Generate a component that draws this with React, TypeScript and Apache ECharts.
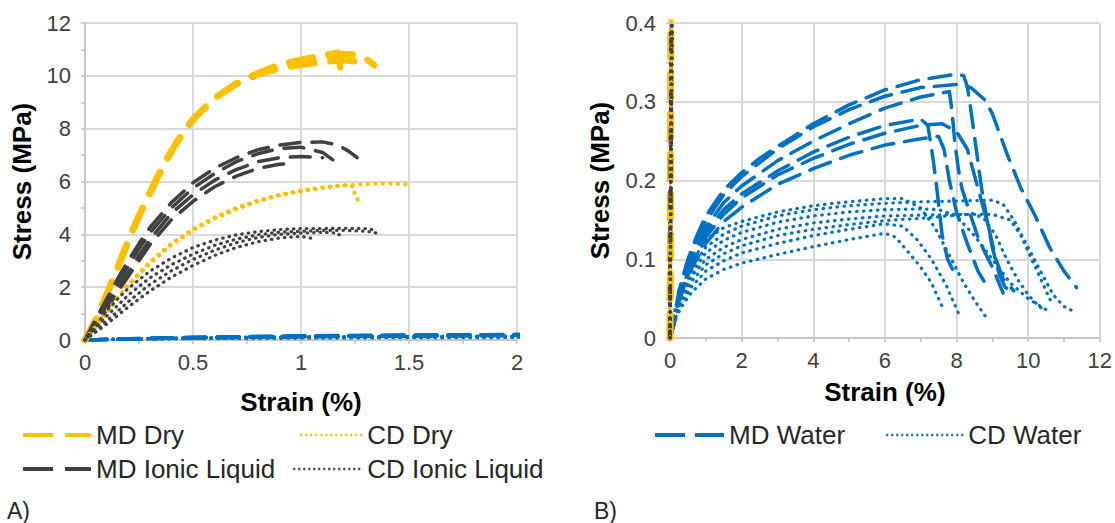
import React, { useEffect, useRef } from 'react';
import * as echarts from 'echarts';

// ---------- Data (strain %, stress MPa) ----------
const mdDry1 = [[0,0],[0.05,0.75],[0.1,1.7],[0.15,2.7],[0.2,3.75],[0.25,4.7],[0.3,5.55],[0.35,6.4],[0.4,7.15],[0.45,7.8],[0.5,8.35],[0.6,9.15],[0.7,9.7],[0.8,10.1],[0.9,10.4],[1.0,10.6],[1.1,10.78],[1.17,10.87],[1.18,10.4],[1.19,9.9]];
const mdDry2 = [[0,0],[0.05,0.75],[0.1,1.7],[0.15,2.7],[0.2,3.75],[0.25,4.7],[0.3,5.55],[0.35,6.4],[0.4,7.15],[0.45,7.8],[0.5,8.35],[0.6,9.15],[0.7,9.7],[0.8,10.1],[0.9,10.42],[1.0,10.6],[1.1,10.73],[1.2,10.83],[1.25,10.8],[1.3,10.65],[1.34,10.4]];
const mdDry3 = [[0,0],[0.05,0.75],[0.1,1.7],[0.15,2.7],[0.2,3.75],[0.25,4.7],[0.3,5.55],[0.35,6.4],[0.4,7.15],[0.45,7.8],[0.5,8.35],[0.6,9.15],[0.7,9.7],[0.8,10.05],[0.9,10.28],[1.0,10.42],[1.1,10.52],[1.2,10.6],[1.25,10.55],[1.28,10.1]];

const cdDry1 = [[0,0],[0.05,0.5],[0.1,1.05],[0.15,1.55],[0.2,2.05],[0.3,2.9],[0.4,3.6],[0.5,4.15],[0.6,4.6],[0.7,4.95],[0.8,5.25],[0.9,5.47],[1.0,5.63],[1.1,5.75],[1.2,5.85],[1.3,5.9],[1.4,5.93],[1.5,5.88]];
const cdDry2 = [[0,0],[0.05,0.52],[0.1,1.08],[0.15,1.6],[0.2,2.1],[0.3,2.95],[0.4,3.65],[0.5,4.2],[0.6,4.64],[0.7,5.0],[0.8,5.28],[0.9,5.5],[1.0,5.66],[1.1,5.78],[1.2,5.86],[1.24,5.82],[1.25,5.5],[1.27,5.2]];

const mdIl1 = [[0,0],[0.05,0.8],[0.1,1.55],[0.15,2.3],[0.2,3.0],[0.25,3.65],[0.3,4.25],[0.4,5.2],[0.5,5.95],[0.6,6.5],[0.7,6.9],[0.8,7.2],[0.9,7.38],[1.0,7.48],[1.1,7.5],[1.17,7.38],[1.22,7.15],[1.26,6.9]];
const mdIl2 = [[0,0],[0.05,0.7],[0.1,1.4],[0.15,2.1],[0.2,2.8],[0.25,3.45],[0.3,4.05],[0.4,5.0],[0.5,5.75],[0.6,6.3],[0.7,6.75],[0.8,7.05],[0.9,7.25],[1.0,7.3],[1.1,7.1],[1.15,6.8],[1.17,6.66]];
const mdIl3 = [[0,0],[0.05,0.6],[0.1,1.25],[0.15,1.9],[0.2,2.55],[0.25,3.2],[0.3,3.8],[0.4,4.8],[0.5,5.5],[0.6,6.05],[0.7,6.45],[0.8,6.75],[0.9,6.9],[1.0,6.95],[1.1,6.9]];
const mdIl4 = [[0,0],[0.05,0.55],[0.1,1.15],[0.15,1.8],[0.2,2.4],[0.25,3.0],[0.3,3.6],[0.4,4.55],[0.5,5.25],[0.6,5.8],[0.7,6.2],[0.8,6.5],[0.9,6.65],[0.95,6.68]];

const cdIl1 = [[0,0],[0.05,0.55],[0.1,1.1],[0.15,1.55],[0.2,1.95],[0.3,2.6],[0.4,3.1],[0.5,3.5],[0.6,3.78],[0.7,3.98],[0.8,4.1],[0.9,4.18],[1.0,4.22],[1.1,4.22],[1.2,4.23],[1.3,4.22],[1.35,4.15]];
const cdIl2 = [[0,0],[0.05,0.45],[0.1,0.9],[0.15,1.3],[0.2,1.7],[0.3,2.35],[0.4,2.85],[0.5,3.25],[0.6,3.58],[0.7,3.82],[0.8,3.98],[0.9,4.08],[1.0,4.12],[1.1,4.15],[1.2,4.15],[1.3,4.12],[1.37,4.02]];
const cdIl3 = [[0,0],[0.05,0.35],[0.1,0.72],[0.15,1.08],[0.2,1.45],[0.3,2.1],[0.4,2.62],[0.5,3.05],[0.6,3.4],[0.7,3.68],[0.8,3.88],[0.9,4.0],[1.0,4.05],[1.1,4.08],[1.17,4.05],[1.18,3.95]];
const cdIl4 = [[0,0],[0.05,0.3],[0.1,0.6],[0.15,0.92],[0.2,1.25],[0.3,1.85],[0.4,2.38],[0.5,2.82],[0.6,3.2],[0.7,3.5],[0.8,3.72],[0.9,3.86],[1.0,3.92],[1.05,3.85]];

const mdWater1 = [[0,0],[0.1,0.02],[0.25,0.06],[0.5,0.1],[0.75,0.13],[1,0.155],[1.5,0.188],[2,0.21],[2.5,0.228],[3,0.243],[4,0.272],[5,0.296],[6,0.315],[7,0.328],[8,0.335],[8.2,0.333],[8.3,0.32],[8.4,0.29],[8.55,0.24],[8.7,0.19],[8.85,0.15],[9.0,0.115],[9.2,0.08],[9.35,0.065],[9.55,0.058]];
const mdWater2 = [[0,0],[0.1,0.02],[0.25,0.055],[0.5,0.095],[0.75,0.125],[1,0.148],[1.5,0.182],[2,0.205],[3,0.24],[4,0.268],[5,0.29],[6,0.307],[7,0.318],[8,0.322],[8.4,0.318],[8.8,0.302],[9.0,0.285],[9.4,0.235],[9.8,0.19],[10.2,0.155],[10.6,0.115],[11.0,0.085],[11.35,0.064]];
const mdWater3 = [[0,0],[0.1,0.018],[0.25,0.05],[0.5,0.09],[1,0.14],[1.5,0.172],[2,0.193],[3,0.225],[4,0.25],[5,0.272],[6,0.292],[7,0.306],[7.8,0.313],[7.87,0.29],[7.95,0.25],[8.05,0.215],[8.15,0.19],[8.4,0.155],[8.6,0.128],[8.8,0.108],[9.0,0.09],[9.2,0.068],[9.3,0.057]];
const mdWater4 = [[0,0],[0.1,0.017],[0.25,0.05],[0.5,0.088],[1,0.135],[1.5,0.163],[2,0.183],[3,0.212],[4,0.236],[5,0.255],[6,0.27],[7,0.278],[7.2,0.27],[7.35,0.226],[7.45,0.19],[7.6,0.13],[7.75,0.1],[7.9,0.086]];
const mdWater5 = [[0,0],[0.1,0.016],[0.25,0.048],[0.5,0.085],[1,0.128],[1.5,0.157],[2,0.178],[3,0.207],[4,0.228],[5,0.246],[6,0.26],[7,0.27],[7.6,0.272],[8.0,0.262],[8.3,0.24],[8.6,0.19],[8.9,0.14],[9.1,0.1],[9.3,0.075],[9.6,0.06]];
const mdWater6 = [[0,0],[0.1,0.015],[0.25,0.045],[0.5,0.08],[1,0.12],[1.5,0.148],[2,0.166],[3,0.195],[4,0.215],[5,0.232],[6,0.245],[7,0.253],[7.5,0.256],[7.65,0.24],[7.8,0.2],[8.0,0.16],[8.3,0.12],[8.6,0.085],[8.9,0.062]];

const cdWater1 = [[0,0],[0.1,0.03],[0.3,0.06],[0.6,0.095],[1,0.125],[1.5,0.14],[2,0.148],[3,0.16],[4,0.168],[5,0.173],[6,0.177],[6.5,0.177],[7.0,0.165],[7.4,0.14],[7.8,0.105],[8.2,0.07],[8.5,0.048],[8.8,0.028]];
const cdWater2 = [[0,0],[0.1,0.02],[0.3,0.038],[0.6,0.058],[1,0.075],[1.5,0.087],[2,0.095],[3,0.106],[4,0.116],[5,0.125],[6,0.133],[6.3,0.128],[6.6,0.112],[7.0,0.09],[7.3,0.07],[7.5,0.05],[7.63,0.037]];
const cdWater3 = [[0,0],[0.1,0.021],[0.3,0.042],[0.6,0.065],[1,0.085],[1.5,0.098],[2,0.108],[3,0.12],[4,0.13],[5,0.138],[6,0.145],[6.5,0.142],[6.9,0.125],[7.3,0.1],[7.7,0.068],[8.05,0.032]];
const cdWater4 = [[0,0],[0.1,0.026],[0.3,0.052],[0.6,0.082],[1,0.108],[1.5,0.124],[2,0.134],[3,0.147],[4,0.155],[5,0.16],[6,0.163],[7,0.164],[7.5,0.163],[8,0.155],[8.5,0.13],[9,0.1],[9.5,0.07],[10,0.05],[10.5,0.036]];
const cdWater5 = [[0,0],[0.1,0.028],[0.3,0.056],[0.6,0.088],[1,0.115],[1.5,0.132],[2,0.142],[3,0.155],[4,0.163],[5,0.168],[6,0.171],[7,0.173],[8,0.174],[9,0.175],[9.3,0.17],[9.6,0.15],[10,0.115],[10.4,0.08],[10.7,0.055],[11.0,0.04],[11.3,0.033]];
const cdWater6 = [[0,0],[0.1,0.025],[0.3,0.05],[0.6,0.078],[1,0.1],[1.5,0.115],[2,0.125],[3,0.138],[4,0.146],[5,0.151],[6,0.155],[7,0.156],[8,0.157],[9,0.157],[9.5,0.15],[9.8,0.13],[10.1,0.1],[10.4,0.07],[10.67,0.043]];
const cdWater7 = [[0,0],[0.1,0.023],[0.3,0.046],[0.6,0.072],[1,0.093],[1.5,0.107],[2,0.117],[3,0.13],[4,0.138],[5,0.144],[6,0.149],[7,0.152],[8,0.156],[8.5,0.158],[8.8,0.15],[9.1,0.13],[9.4,0.1],[9.7,0.075],[10.0,0.055],[10.3,0.04],[10.5,0.035]];

const leftXTicks = { min: 0, max: 2, interval: 0.5 };
const leftYTicks = { min: 0, max: 12, interval: 2 };
const rightXTicks = { min: 0, max: 12, interval: 2 };
const rightYTicks = { min: 0, max: 0.4, interval: 0.1 };

const FONT = "'Liberation Sans', Arial, sans-serif";
const YELLOW = '#FFC000';
const GRAY = '#404040';
const BLUE = '#0070C0';

const groups = [
  { name: 'MD Water', data: [mdWater1, mdWater2, mdWater3, mdWater4, mdWater5, mdWater6], color: BLUE, width: 3.5, dash: [22, 11] },
  { name: 'CD Water', data: [cdWater1, cdWater2, cdWater3, cdWater4, cdWater5, cdWater6, cdWater7], color: BLUE, width: 3.2, dash: [0.5, 6.5] },
  { name: 'MD Dry', data: [mdDry1, mdDry2, mdDry3], color: YELLOW, width: 6.5, dash: [24, 16] },
  { name: 'MD Ionic Liquid', data: [mdIl1, mdIl2, mdIl3, mdIl4], color: GRAY, width: 3.5, dash: [20, 12] },
  { name: 'CD Dry', data: [cdDry1, cdDry2], color: YELLOW, width: 4, dash: [0.5, 7] },
  { name: 'CD Ionic Liquid', data: [cdIl1, cdIl2, cdIl3, cdIl4], color: GRAY, width: 3.2, dash: [0.5, 6] },
];

function buildSeries() {
  const out: any[] = [];
  for (const g of [0, 1]) {
    for (const grp of groups) {
      for (const d of grp.data) {
        out.push({
          type: 'line',
          name: grp.name,
          xAxisIndex: g,
          yAxisIndex: g,
          data: d,
          showSymbol: false,
          symbol: 'none',
          silent: true,
          clip: true,
          lineStyle: { color: grp.color, width: grp.width, type: grp.dash, cap: 'round', join: 'round' },
          itemStyle: { color: grp.color },
        });
      }
    }
  }
  return out;
}

const axisCommon = {
  type: 'value',
  axisLine: { show: true, onZero: false, lineStyle: { color: '#bfbfbf', width: 1.5 } },
  axisTick: { show: true, length: 4, lineStyle: { color: '#bfbfbf', width: 1.5 } },
  minorTick: { show: true, splitNumber: 2, length: 4, lineStyle: { color: '#bfbfbf', width: 1.5 } },
  splitLine: { show: true, lineStyle: { color: '#d9d9d9', width: 2 } },
  axisLabel: { fontFamily: FONT, fontSize: 22, color: '#404040' },
  nameLocation: 'middle',
  nameTextStyle: { fontFamily: FONT, fontSize: 26, fontWeight: 'bold', color: '#000' },
};

function legendItem(name: string, left: number, top: number, width: number, lineStyle: any) {
  return {
    data: [name],
    left,
    top,
    padding: 0,
    itemWidth: width,
    itemHeight: 14,
    itemGap: 0,
    selectedMode: false,
    lineStyle,
    itemStyle: { opacity: 0 },
    textStyle: { fontFamily: FONT, fontSize: 26, color: '#262626' },
  };
}

export default function App() {
  const ref = useRef<HTMLDivElement>(null);
  useEffect(() => {
    const chart = echarts.init(ref.current!, null, { renderer: 'svg' });
    const option: any = {
      animation: false,
      backgroundColor: '#fff',
      grid: [
        { left: 85, top: 23, width: 432, height: 317 },
        { left: 670, top: 23, width: 430, height: 315 },
      ],
      xAxis: [
        { ...axisCommon, gridIndex: 0, ...leftXTicks, name: 'Strain (%)', nameGap: 49, axisLabel: { ...axisCommon.axisLabel, margin: 11 } },
        { ...axisCommon, gridIndex: 1, ...rightXTicks, name: 'Strain (%)', nameGap: 41, axisLabel: { ...axisCommon.axisLabel, margin: 11 } },
      ],
      yAxis: [
        { ...axisCommon, gridIndex: 0, ...leftYTicks, name: 'Stress (MPa)', nameGap: 50, axisLabel: { ...axisCommon.axisLabel, margin: 14 } },
        { ...axisCommon, gridIndex: 1, ...rightYTicks, name: 'Stress (MPa)', nameGap: 57, axisLabel: { ...axisCommon.axisLabel, margin: 14 } },
      ],
      legend: [
        legendItem('MD Dry', 21, 422, 68, { width: 4, type: [30, 12], cap: 'butt' }),
        legendItem('MD Ionic Liquid', 21, 456, 68, { width: 4, type: [30, 12], cap: 'butt' }),
        legendItem('CD Dry', 299, 422, 62, { width: 2.5, type: [2, 3], cap: 'butt' }),
        legendItem('CD Ionic Liquid', 292, 456, 69, { width: 2.5, type: [2, 3], cap: 'butt' }),
        legendItem('MD Water', 653, 422, 69, { width: 4, type: [30, 10], cap: 'butt' }),
        legendItem('CD Water', 885, 422, 77, { width: 2.5, type: [2, 3], cap: 'butt' }),
      ],
      graphic: [
        { type: 'text', left: 7, top: 499, style: { text: 'A)', fontFamily: FONT, fontSize: 23, fill: '#262626' } },
        { type: 'text', left: 594, top: 499, style: { text: 'B)', fontFamily: FONT, fontSize: 23, fill: '#262626' } },
      ],
      series: buildSeries(),
    };
    chart.setOption(option);
    return () => chart.dispose();
  }, []);
  return <div ref={ref} style={{ position: 'fixed', left: 0, top: 0, width: 1115, height: 523, background: '#fff' }} />;
}
